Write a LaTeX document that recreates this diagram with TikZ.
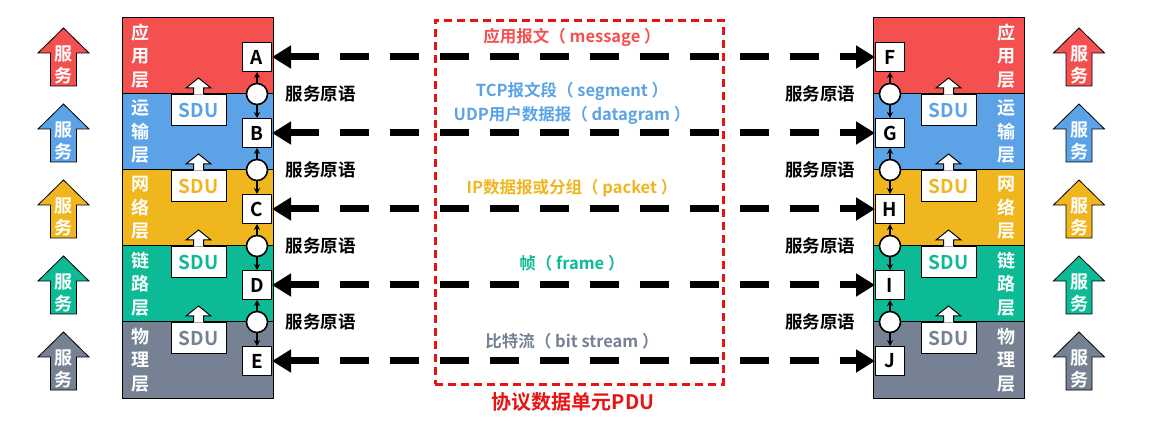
\documentclass[tikz,border=0pt]{standalone}
\usepackage{fontspec}
\setmainfont{Noto Sans CJK SC}[BoldFont={* Bold}]
\usetikzlibrary{arrows.meta}
\definecolor{cred}{RGB}{244,80,80}
\definecolor{cblue}{RGB}{91,163,230}
\definecolor{cyellow}{RGB}{240,182,30}
\definecolor{cgreen}{RGB}{12,186,150}
\definecolor{cgrey}{RGB}{118,130,148}
\definecolor{pdured}{RGB}{232,20,20}
\tikzset{
  layer/.style={draw=black, line width=1pt, minimum width=151pt, minimum height=76pt, anchor=north west, inner sep=0pt, outer sep=0pt},
  lbl/.style={text=white, align=center, font=\fontsize{18}{23.5}\selectfont\bfseries, inner sep=0pt},
  lbox/.style={draw=black, fill=white, line width=1pt, minimum size=29pt, inner sep=0pt, font=\fontsize{19}{19}\selectfont\bfseries},
  cir/.style={circle, draw=black, fill=white, line width=1.6pt, minimum size=21pt, inner sep=0pt},
  sarrow/.style={line width=1.3pt, -{Stealth[length=6pt,width=6pt]}},
  sdu/.style={draw=black, fill=white, line width=1pt, minimum width=55pt, minimum height=31pt, anchor=north, inner sep=0pt, font=\fontsize{19}{19}\selectfont\bfseries},
  prim/.style={font=\fontsize{17.5}{17.5}\selectfont\bfseries, inner sep=0pt},
  pdu/.style={line width=7pt, dash pattern=on 29pt off 21pt, {Triangle[length=19pt,width=22pt]}-{Triangle[length=19pt,width=22pt]}},
  mid/.style={font=\fontsize{16.5}{16.5}\selectfont\bfseries, inner sep=0pt},
  svc/.style={draw=black, line width=0.8pt},
  svctext/.style={text=white, align=center, font=\fontsize{18}{22}\selectfont\bfseries, inner sep=0pt}
}
\begin{document}
\begin{tikzpicture}[x=1pt,y=-1pt]
\useasboundingbox (0,0) rectangle (1173,438);

% layers
\foreach \c [count=\i from 0] in {cred,cblue,cyellow,cgreen,cgrey}{
  \node[layer, fill=\c] (L\i) at (122,18+76*\i) {};
  \node[layer, fill=\c] (R\i) at (873,18+76*\i) {};
}
% layer labels
\foreach \t [count=\i from 0] in {{应\\用\\层},{运\\输\\层},{网\\络\\层},{链\\路\\层},{物\\理\\层}}{
  \node[lbl] (ll\i) at (140,56+76*\i) {\t};
  \node[lbl] (rl\i) at (1006,56+76*\i) {\t};
}

% SDU boxes with arrows
\foreach \c [count=\i from 1] in {cblue,cyellow,cgreen,cgrey}{
  \foreach \x/\s in {198.5/l,948.5/r}{
    \node[sdu, text=\c] (sdu\s\i) at (\x,18+76*\i) {SDU};
    \fill[white] ([xshift=-5pt,yshift=-0.6pt]sdu\s\i.north) -- ++(0,-6.6) -- ++(-7.5,0) -- ([yshift=16pt]sdu\s\i.north) -- ([xshift=12.5pt,yshift=6pt]sdu\s\i.north) -- ++(-7.5,0) -- ++(0,6.6) -- cycle;
    \draw[line width=1pt, line join=miter] ([xshift=-5pt]sdu\s\i.north) -- ++(0,-6) -- ++(-7.5,0) -- ([yshift=16pt]sdu\s\i.north) -- ([xshift=12.5pt,yshift=6pt]sdu\s\i.north) -- ++(-7.5,0) -- ++(0,6);
  }
}

% letter boxes
\foreach \n/\m [count=\i from 0] in {A/F,B/G,C/H,D/I,E/J}{
  \node[lbox] (\n) at (257,57+76*\i) {\n};
  \node[lbox] (\m) at (890,57+76*\i) {\m};
}
% circles
\foreach \i in {1,...,4}{
  \node[cir] (cl\i) at (257,18+76*\i) {};
  \node[cir] (cr\i) at (890,18+76*\i) {};
}
\draw[sarrow] (cl1) -- (A); \draw[sarrow] (cl1) -- (B);
\draw[sarrow] (cl2) -- (B); \draw[sarrow] (cl2) -- (C);
\draw[sarrow] (cl3) -- (C); \draw[sarrow] (cl3) -- (D);
\draw[sarrow] (cl4) -- (D); \draw[sarrow] (cl4) -- (E);
\draw[sarrow] (cr1) -- (F); \draw[sarrow] (cr1) -- (G);
\draw[sarrow] (cr2) -- (G); \draw[sarrow] (cr2) -- (H);
\draw[sarrow] (cr3) -- (H); \draw[sarrow] (cr3) -- (I);
\draw[sarrow] (cr4) -- (I); \draw[sarrow] (cr4) -- (J);

% service primitive labels
\foreach \i in {1,...,4}{
  \node[prim] (pl\i) at (320.5,18+76*\i) {服务原语};
  \node[prim] (pr\i) at (820,18+76*\i) {服务原语};
}

% PDU dashed box
\node[draw=pdured, dashed, dash pattern=on 8pt off 5pt, line width=2.6pt, minimum width=288pt, minimum height=364pt, inner sep=0pt, anchor=north west] (pdubox) at (434,19) {};
\node[font=\fontsize{20}{20}\selectfont\bfseries, text=pdured, inner sep=0pt] (pdulbl) at (573,402) {协议数据单元PDU};

% peer dashed arrows
\draw[pdu] (A) -- (F);
\draw[pdu] (B) -- (G);
\draw[pdu] (C) -- (H);
\draw[pdu] (D) -- (I);
\draw[pdu] (E) -- (J);

% middle labels
\node[mid, text=cred] (m1) at (572,37) {应用报文（ message ）};
\node[mid, text=cblue] (m2a) at (572,91) {TCP报文段（ segment ）};
\node[mid, text=cblue] (m2b) at (572,115) {UDP用户数据报（ datagram ）};
\node[mid, text=cyellow] (m3) at (572,188) {IP数据报或分组（ packet ）};
\node[mid, text=cgreen] (m4) at (572,263) {帧（ frame ）};
\node[mid, text=cgrey] (m5) at (572,341) {比特流（ bit stream ）};

% service arrows
\foreach \c [count=\i from 0] in {cred,cblue,cyellow,cgreen,cgrey}{
  \foreach \x/\s in {63.5/l,1079/r}{
    \pgfmathsetmacro{\t}{28+76*\i}
    \filldraw[svc, fill=\c] (\x,\t) -- ++(25.5,25) -- ++(-12.5,0) -- ++(0,33) -- ++(-26,0) -- ++(0,-33) -- ++(-12.5,0) -- cycle;
    \node[svctext] (sv\s\i) at (\x,\t+37) {服\\务};
  }
}
\end{tikzpicture}
\end{document}
